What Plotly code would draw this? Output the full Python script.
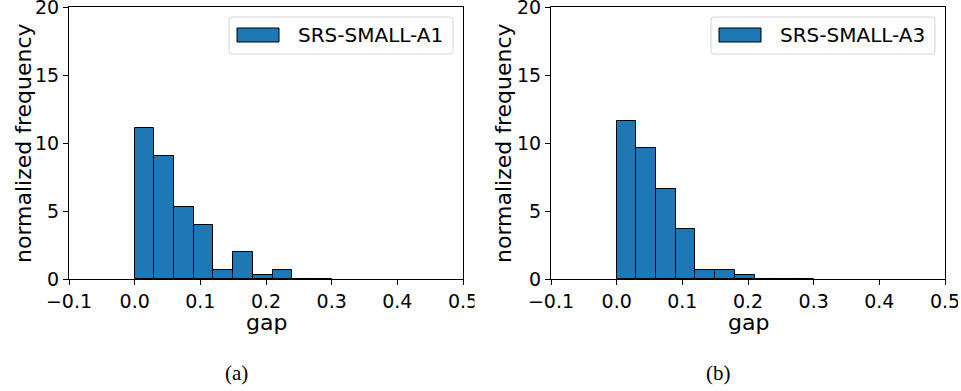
import plotly.graph_objects as go

# ---- data ----
bin_edges = [0.00, 0.03, 0.06, 0.09, 0.12, 0.15, 0.18, 0.21, 0.24, 0.27, 0.30]
freq_a1 = [11.08, 9.07, 5.32, 3.99, 0.64, 1.96, 0.29, 0.64, 0.03, 0.03]
freq_a3 = [11.64, 9.66, 6.64, 3.65, 0.66, 0.66, 0.29, 0.03, 0.03, 0.03]
series_names = ["SRS-SMALL-A1", "SRS-SMALL-A3"]
captions = ["(a)", "(b)"]
x_tickvals = [-0.1, 0.0, 0.1, 0.2, 0.3, 0.4, 0.5]
x_ticktext = ["\u22120.1", "0.0", "0.1", "0.2", "0.3", "0.4", "0.5"]
y_tickvals = [0, 5, 10, 15, 20]

W, H = 961, 391
BLUE = "#1f77b4"
FONT = "DejaVu Sans"


def px(x):
    return x / W


def py(y):
    return 1 - y / H


centers = [(bin_edges[i] + bin_edges[i + 1]) / 2 for i in range(len(bin_edges) - 1)]
widths = [bin_edges[i + 1] - bin_edges[i] for i in range(len(bin_edges) - 1)]

fig = go.Figure()

panels = [
    dict(x0=69, x1=463, data=freq_a1, name=series_names[0], cap=captions[0], ylab_x=23),
    dict(x0=551, x1=945, data=freq_a3, name=series_names[1], cap=captions[1], ylab_x=503),
]
PT, PB = 7, 279

shapes = []
annotations = []
for i, p in enumerate(panels):
    xa = "x" if i == 0 else "x2"
    ya = "y" if i == 0 else "y2"
    fig.add_trace(go.Bar(
        x=centers, y=p["data"], width=widths, name=p["name"],
        marker=dict(color=BLUE, line=dict(color="black", width=1)),
        xaxis=xa, yaxis=ya, showlegend=False,
    ))
    axis_common = dict(
        showline=True, linecolor="black", linewidth=1, mirror=True,
        ticks="outside", ticklen=5, tickwidth=1, tickcolor="black",
        showgrid=False, zeroline=False, automargin=False,
        ticklabeloverflow="allow",
        tickfont=dict(family=FONT, size=19, color="black"),
    )
    xkey = "xaxis" if i == 0 else "xaxis2"
    ykey = "yaxis" if i == 0 else "yaxis2"
    fig.update_layout(**{
        xkey: dict(domain=[px(p["x0"]), px(p["x1"])], range=[-0.1, 0.5],
                   tickvals=x_tickvals, ticktext=x_ticktext, anchor=ya, **axis_common),
        ykey: dict(domain=[py(PB), py(PT)], range=[0, 20], tickvals=y_tickvals,
                   anchor=xa, **axis_common),
    })
    # axis titles
    annotations.append(dict(
        x=px((p["x0"] + p["x1"]) / 2), y=py(322), xref="paper", yref="paper",
        text="gap", showarrow=False, xanchor="center", yanchor="middle",
        font=dict(family=FONT, size=22, color="black"),
    ))
    annotations.append(dict(
        x=px(p["ylab_x"]), y=py((PT + PB) / 2), xref="paper", yref="paper",
        text="normalized frequency", showarrow=False, textangle=-90,
        xanchor="center", yanchor="middle",
        font=dict(family=FONT, size=22, color="black"),
    ))
    # caption
    annotations.append(dict(
        x=px((p["x0"] + p["x1"]) / 2 - 30), y=py(373), xref="paper", yref="paper",
        text=p["cap"], showarrow=False, xanchor="center", yanchor="middle",
        font=dict(family="Liberation Serif", size=21, color="black"),
    ))
    # legend (matplotlib-style)
    lx0 = p["x0"] + 160
    lx1 = p["x0"] + 384
    ly0, ly1 = 17, 54
    r = 3
    path = (
        f"M {px(lx0 + r)} {py(ly0)} L {px(lx1 - r)} {py(ly0)} "
        f"Q {px(lx1)} {py(ly0)} {px(lx1)} {py(ly0 + r)} "
        f"L {px(lx1)} {py(ly1 - r)} Q {px(lx1)} {py(ly1)} {px(lx1 - r)} {py(ly1)} "
        f"L {px(lx0 + r)} {py(ly1)} Q {px(lx0)} {py(ly1)} {px(lx0)} {py(ly1 - r)} "
        f"L {px(lx0)} {py(ly0 + r)} Q {px(lx0)} {py(ly0)} {px(lx0 + r)} {py(ly0)} Z"
    )
    shapes.append(dict(type="path", path=path, xref="paper", yref="paper",
                       fillcolor="rgba(255,255,255,0.8)",
                       line=dict(color="#d6d6d6", width=1), layer="above"))
    shapes.append(dict(type="rect", xref="paper", yref="paper",
                       x0=px(lx0 + 8), x1=px(lx0 + 50), y0=py(42), y1=py(28),
                       fillcolor=BLUE, line=dict(color="black", width=1), layer="above"))
    annotations.append(dict(
        x=px(lx0 + 67), y=py(35), xref="paper", yref="paper", text=p["name"],
        showarrow=False, xanchor="left", yanchor="middle",
        font=dict(family=FONT, size=20, color="black"),
    ))

# clip the right-most tick labels like the original composite image
shapes.append(dict(type="rect", xref="paper", yref="paper", x0=px(474.5), x1=px(500),
                   y0=py(312), y1=py(283), fillcolor="white", line=dict(width=0), layer="above"))
shapes.append(dict(type="rect", xref="paper", yref="paper", x0=px(958), x1=1,
                   y0=py(312), y1=py(283), fillcolor="white", line=dict(width=0), layer="above"))

fig.update_layout(
    width=W, height=H, margin=dict(l=0, r=0, t=0, b=0),
    paper_bgcolor="white", plot_bgcolor="white",
    shapes=shapes, annotations=annotations, bargap=0,
    font=dict(family=FONT, color="black"),
)

fig.write_html(
    "out.html",
    config={"displayModeBar": False},
    post_script="document.body.style.margin='0';document.body.style.padding='0';"
                "document.documentElement.style.overflow='hidden';",
)
